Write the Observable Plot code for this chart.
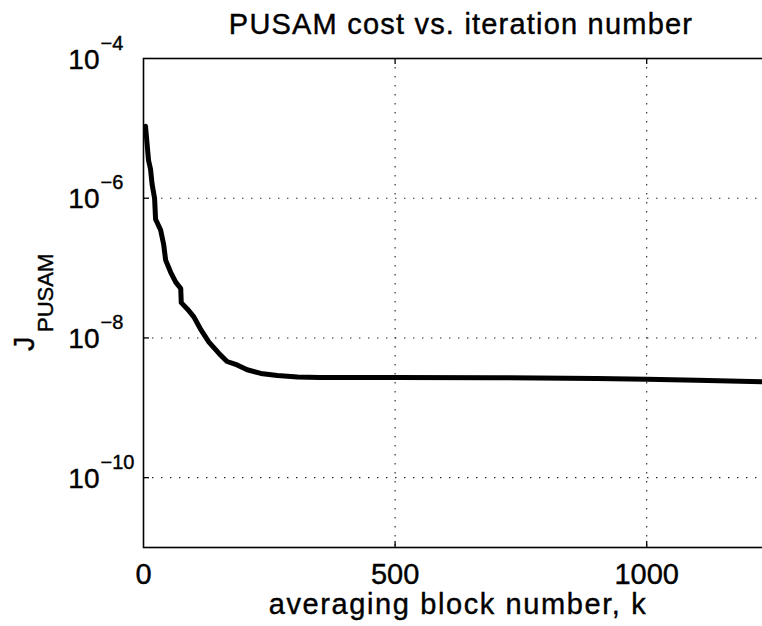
<!DOCTYPE html>
<html>
<head>
<meta charset="utf-8">
<script src="https://cdn.jsdelivr.net/npm/d3@7"></script>
<script src="https://cdn.jsdelivr.net/npm/@observablehq/plot@0.6"></script>
<style>
  html, body { margin: 0; padding: 0; background: #fff; overflow: hidden; }
  body { width: 762px; height: 626px; position: relative; font-family: "Liberation Sans", Arial, sans-serif; }
  #title {
    position: absolute; left: 0; top: 0; width: 922px; height: 48px;
    text-align: center; font-size: 29px; line-height: 48px; letter-spacing: 1.2px; color: #000;
    -webkit-text-stroke: 0.4px #000;
  }
  #chart { position: absolute; left: 0; top: 48px; width: 780px; }
  #chart svg { max-width: none !important; }
  #chart svg text { stroke: #000; stroke-width: 0.4px; }
</style>
</head>
<body>
<div id="title">PUSAM cost vs. iteration number</div>
<div id="chart"></div>
<script>
// PUSAM cost J against averaging block number k
const blockK = [4, 10, 14, 17, 22, 24, 34, 40, 44, 54, 64, 74, 75, 87, 100, 113, 130, 150, 166, 186, 206, 233, 266, 306, 350, 500, 700, 900, 1000, 1100, 1250];
const costJ = [1.07e-5, 3.5e-6, 2.6e-6, 1.6e-6, 1.0e-6, 5.0e-7, 3.5e-7, 2.2e-7, 1.3e-7, 8.7e-8, 6.3e-8, 5.1e-8, 3.2e-8, 2.6e-8, 2.0e-8, 1.35e-8, 8.7e-9, 6.0e-9, 4.6e-9, 4.1e-9, 3.5e-9, 3.1e-9, 2.9e-9, 2.75e-9, 2.72e-9, 2.72e-9, 2.7e-9, 2.63e-9, 2.57e-9, 2.48e-9, 2.34e-9];

// axis ticks
const xTicks = [0, 500, 1000];
const xGrid = [500, 1000];
const yExponents = [-4, -6, -8, -10];
const yGrid = [1e-6, 1e-8, 1e-10];
const xTitle = "averaging block number, k";

const data = blockK.map((k, i) => ({k, J: costJ[i]}));
const yTicks = yExponents.map(e => ({v: Math.pow(10, e), e}));

const W = 780, H = 578, mT = 10, mB = 79, mL = 143, mR = 8;
const frameH = H - mT - mB, frameW = W - mL - mR;
const dotted = {stroke: "#222", strokeWidth: 1.1, strokeDasharray: "1.4,7.6"};

const chart = Plot.plot({
  width: W, height: H,
  marginTop: mT, marginBottom: mB, marginLeft: mL, marginRight: mR,
  style: {fontFamily: "'Liberation Sans', Arial, sans-serif", color: "#000", background: "#fff", overflow: "visible", maxWidth: "none"},
  x: {domain: [0, 1250], axis: null},
  y: {type: "log", domain: [1e-11, 1e-4], axis: null},
  marks: [
    Plot.ruleX(xGrid, dotted),
    Plot.ruleY(yGrid, dotted),
    // inward tick marks
    Plot.tickX(xGrid, {insetTop: frameH - 6, strokeWidth: 1.3}),
    Plot.tickX(xGrid, {insetBottom: frameH - 6, strokeWidth: 1.3}),
    Plot.tickY(yGrid, {insetRight: frameW - 6, strokeWidth: 1.3}),
    Plot.frame({stroke: "#000", strokeWidth: 1.6}),
    Plot.line(data, {x: "k", y: "J", stroke: "#000", strokeWidth: 5, strokeLinejoin: "round", strokeLinecap: "round"}),
    // x tick labels
    Plot.text(xTicks, {x: d => d, text: d => String(d), frameAnchor: "bottom", lineAnchor: "bottom", dy: 36, fontSize: 29, fill: "#000"}),
    // y tick labels: base and superscript exponent
    Plot.text(yTicks, {y: "v", text: () => "10", frameAnchor: "left", textAnchor: "end", lineAnchor: "bottom", dx: -44, dy: 10, fontSize: 28, fill: "#000"}),
    Plot.text(yTicks, {y: "v", text: d => "\u2212" + Math.abs(d.e), frameAnchor: "left", textAnchor: "start", lineAnchor: "bottom", dx: -43, dy: -9, fontSize: 20, fill: "#000"}),
    // axis titles
    Plot.text([xTitle], {frameAnchor: "bottom", lineAnchor: "bottom", dy: 66, fontSize: 29, fill: "#000"}),
    Plot.text(["J"], {frameAnchor: "left", rotate: -90, textAnchor: "start", lineAnchor: "bottom", dx: -110, dy: 48, fontSize: 29, fill: "#000"}),
    Plot.text(["PUSAM"], {frameAnchor: "left", rotate: -90, textAnchor: "start", lineAnchor: "bottom", dx: -91, dy: 29, fontSize: 22, fill: "#000"})
  ]
});
// wider tracking for the x-axis title
d3.select(chart).selectAll("text")
  .filter(function () { return this.textContent === xTitle; })
  .style("letter-spacing", "1.6px");
document.getElementById("chart").appendChild(chart);
</script>
</body>
</html>
